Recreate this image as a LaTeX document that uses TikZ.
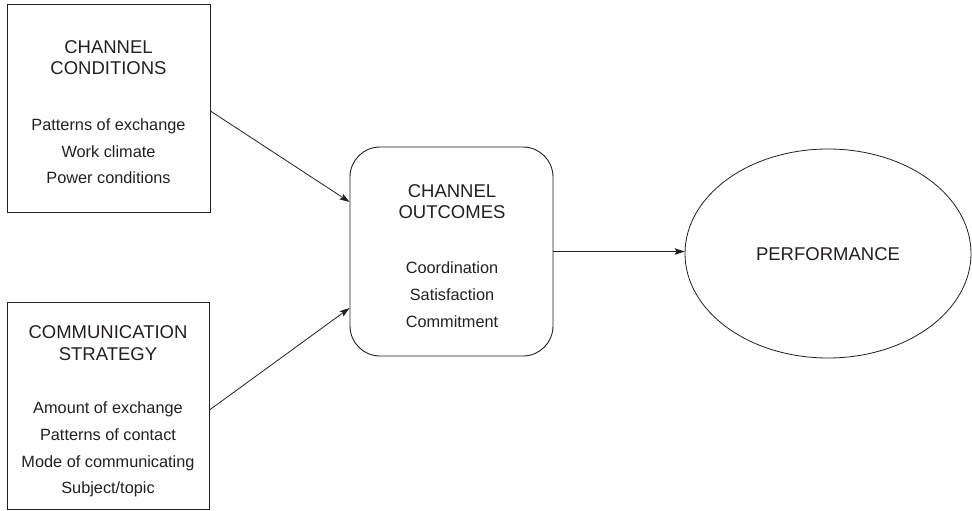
\documentclass[tikz,border=0pt]{standalone}
\usepackage{fontspec}
\setmainfont{Liberation Sans}
\usetikzlibrary{arrows.meta,shapes.geometric}
\definecolor{ink}{HTML}{231F20}
\tikzset{
  box/.style={draw=ink, line width=0.9pt, inner sep=0pt, minimum width=#1},
  head/.style={text=ink, font=\fontsize{18.5}{18.5}\selectfont, inner sep=0pt, anchor=base, yshift=-6.6pt},
  item/.style={text=ink, font=\fontsize{16.3}{16.3}\selectfont, inner sep=0pt, anchor=base, yshift=-5.9pt},
  conn/.style={draw=ink, line width=0.8pt, -{Stealth[length=10pt,width=6.5pt,inset=2pt]}}
}
\begin{document}
\begin{tikzpicture}[x=1pt,y=-1pt]
\useasboundingbox (0,0) rectangle (972,511);
% boxes
\node[box=203pt, minimum height=208pt] (b1) at (108.5,108) {};
\node[box=202pt, minimum height=207pt] (b2) at (108,405.5) {};
\node[box=203pt, minimum height=209pt, rounded corners=30pt] (b3) at (451.5,251.5) {};
\node[draw=ink, line width=0.8pt, ellipse, inner sep=0pt, minimum width=286pt, minimum height=209pt] (perf) at (828,253.5) {};
% texts box 1
\node[head] (t1a) at (108.5,47) {CHANNEL};
\node[head] (t1b) at (108.5,68) {CONDITIONS};
\node[item] (i1a) at (108.5,125) {Patterns of exchange};
\node[item] (i1b) at (108.5,152) {Work climate};
\node[item] (i1c) at (108.5,178) {Power conditions};
% texts box 2
\node[head] (t2a) at (108,332) {COMMUNICATION};
\node[head] (t2b) at (108,354) {STRATEGY};
\node[item] (i2a) at (108,408) {Amount of exchange};
\node[item] (i2b) at (108,435) {Patterns of contact};
\node[item] (i2c) at (108,462) {Mode of communicating};
\node[item] (i2d) at (108,488) {Subject/topic};
% texts box 3
\node[head] (t3a) at (452,191) {CHANNEL};
\node[head] (t3b) at (452,212) {OUTCOMES};
\node[item] (i3a) at (452,268) {Coordination};
\node[item] (i3b) at (452,295) {Satisfaction};
\node[item] (i3c) at (452,322) {Commitment};
% performance
\node[head] (tp) at (828,254) {PERFORMANCE};
% connectors
\draw[conn] ([yshift=-3pt]b1.east) -- ([yshift=49.5pt]b3.west);
\draw[conn] ([yshift=-4.5pt]b2.east) -- ([yshift=-56.5pt]b3.west);
\draw[conn] (b3.east) -- (b3.east -| perf.west);
\end{tikzpicture}
\end{document}
